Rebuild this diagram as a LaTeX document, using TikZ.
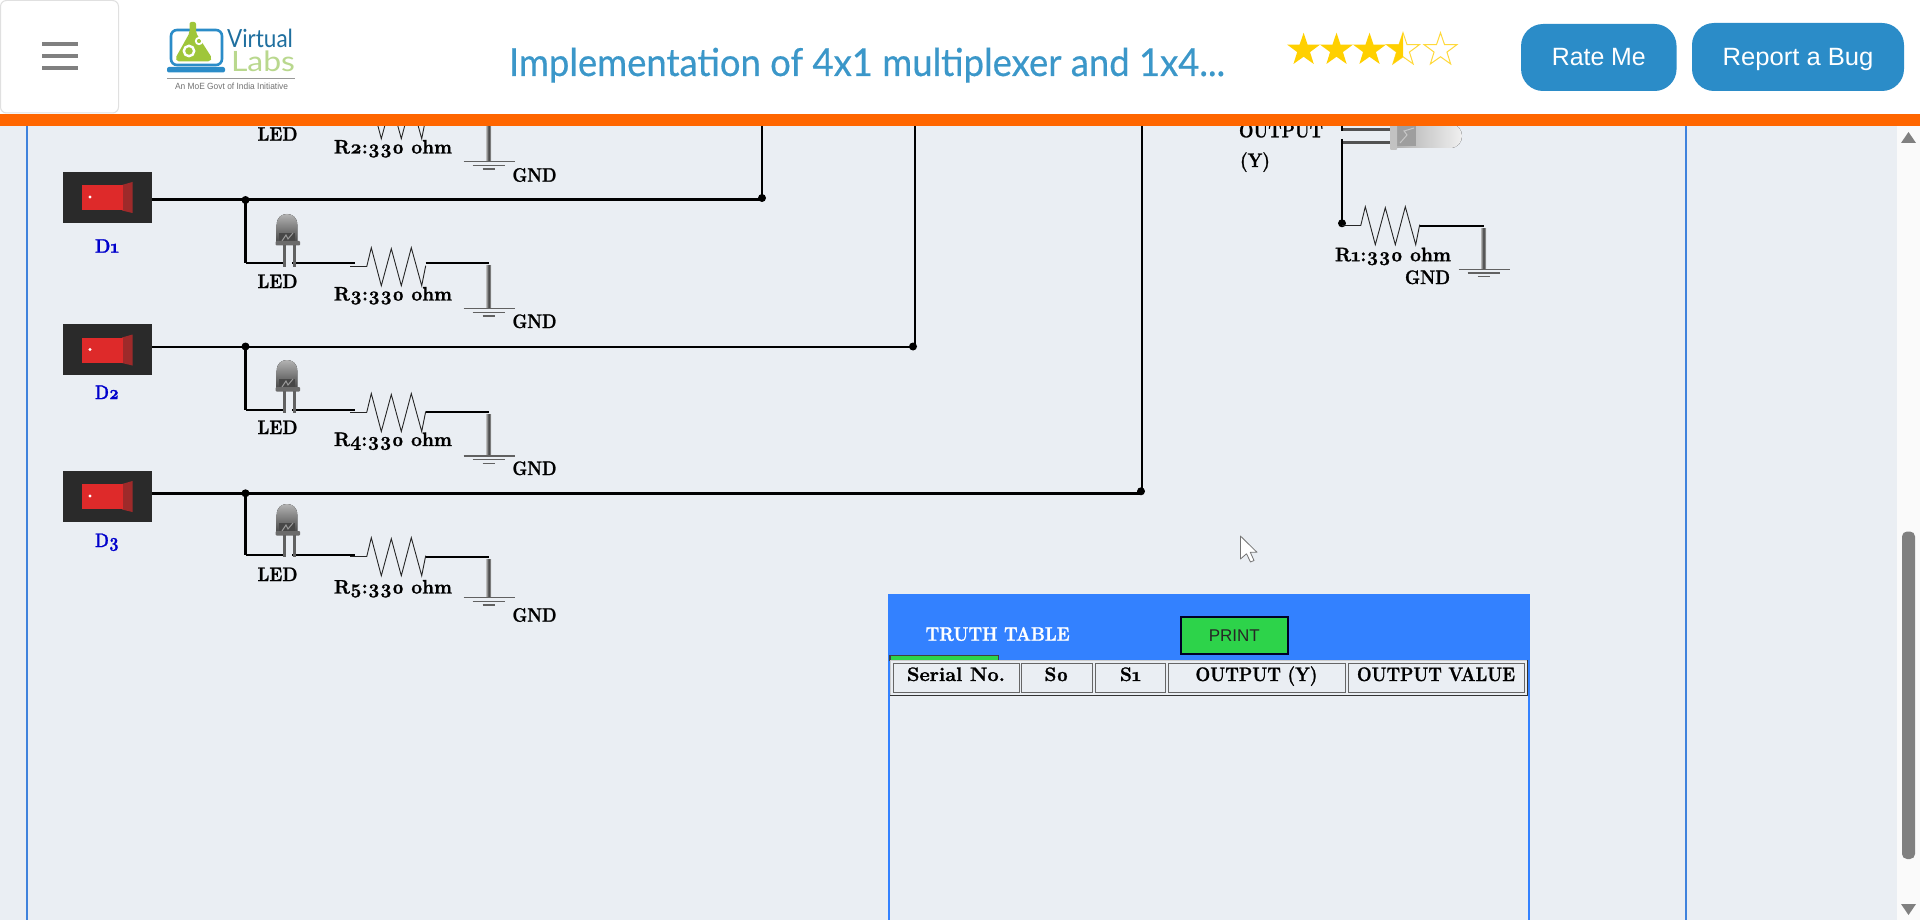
\documentclass[tikz,border=0pt]{standalone}
\usepackage{fontspec}
\usepackage{graphicx}
\usetikzlibrary{shapes.geometric}
\setmainfont{Liberation Sans}
\newfontfamily\gf[Numbers=OldStyle,BoldFeatures={FakeBold=1.3}]{Latin Modern Roman}
\newfontfamily\ttlf{Lato}
\newfontfamily\ttlb[FakeBold=0.5]{Lato}
\newfontfamily\sansf{Liberation Sans}
\definecolor{pagebg}{HTML}{EAEEF3}
\definecolor{orangebar}{HTML}{FF6600}
\definecolor{panelblue}{HTML}{3381FF}
\definecolor{edgeblue}{HTML}{3F82DC}
\definecolor{btnblue}{HTML}{2B8CC8}
\definecolor{ttlblue}{HTML}{3B97C9}
\definecolor{printgreen}{HTML}{2DD34A}
\definecolor{gold}{HTML}{FFD000}
\definecolor{goldl}{HTML}{FFD93B}
\definecolor{swdark}{HTML}{2A2A2A}
\definecolor{swred}{HTML}{DE2A2A}
\definecolor{swredd}{HTML}{9E2A2A}
\definecolor{dblue}{HTML}{0000CC}
\definecolor{flask}{HTML}{9FC63A}
\definecolor{labsg}{HTML}{B9D88E}
\definecolor{virt}{HTML}{1F6F9F}
\newcommand\fitw[2]{\resizebox{#1pt}{\height}{#2}}
\newcommand\gfb{\gf\bfseries\fontsize{19.5}{22}\selectfont}
\newcommand\zig[2]{\draw[zg] (366.7+#1,#2) -- (371.3+#1,#2-19) -- (381.3+#1,#2+19) -- (391.3+#1,#2-18) -- (401.3+#1,#2+19) -- (411.3+#1,#2-19) -- (421.7+#1,#2+19) -- (425.7+#1,#2-1);}
\newcommand\gnd[4]{%
  \fill[left color=gray!60,right color=gray!60,middle color=black!75] (#1-2.5,#2) rectangle (#1+2.5,#3);
  \draw[gl] (#1-25,#3) -- (#1+26,#3);
  \draw[gl] (#1-16,#3+3.6) -- (#1+16,#3+3.6);
  \draw[gl] (#1-6,#3+7.4) -- (#1+6,#3+7.4);}
\newcommand\ledv[2]{%
  \fill[top color=black!30,bottom color=black!72] (#1-10.3,#2+28) -- (#1-10.3,#2+11) .. controls (#1-10.3,#2+3) and (#1-5,#2) .. (#1,#2) .. controls (#1+5,#2) and (#1+10.3,#2+3) .. (#1+10.3,#2+11) -- (#1+10.3,#2+28) -- cycle;
  \fill[black!72] (#1-8,#2+19) -- (#1+8,#2+19) -- (#1+8,#2+27) -- (#1-8,#2+27) -- cycle;
  \draw[black!40,line width=1pt] (#1-5,#2+27) -- (#1-1,#2+21) -- (#1+1,#2+25) -- (#1+6,#2+19);
  \fill[black!58,rounded corners=1pt] (#1-11.5,#2+27) rectangle (#1+13,#2+31.5);
  \fill[black!62] (#1-4.2,#2+31) rectangle (#1-1.2,#2+53);
  \fill[black!62] (#1+5.5,#2+31) rectangle (#1+8.5,#2+53);}
\newcommand\swtch[2]{%
  \node[swbox] (sw#1) at (107.5,#2+25.3) {};
  \fill[swredd] (122,#2+13) -- (132.5,#2+10) -- (132.5,#2+41) -- (122,#2+38.5) -- cycle;
  \fill[swred] (82,#2+13) rectangle (122.5,#2+38);
  \fill[white] (90,#2+25) circle (1.7);}
\tikzset{
  x=1pt,y=-1pt,
  wire/.style={line width=2pt,black},
  wirem/.style={line width=3pt,black},
  zg/.style={line width=0.9pt,black!85,line join=miter},
  gl/.style={line width=1.3pt,black!62},
  dotn/.style={circle,fill=black,inner sep=0pt,minimum size=8pt},
  swbox/.style={rectangle,fill=swdark,inner sep=0pt,minimum width=89pt,minimum height=50.7pt},
  lbl/.style={inner sep=0pt,outer sep=0pt,anchor=base west,font=\gfb},
  lblc/.style={inner sep=0pt,outer sep=0pt,anchor=base,font=\gfb},
  btn/.style={rectangle,rounded corners=22pt,fill=btnblue,inner sep=0pt},
  btnt/.style={inner sep=0pt,outer sep=0pt,anchor=base,text=white,font=\sansf\fontsize{25}{28}\selectfont},
  starf/.style={star,star points=5,star point ratio=2.55,inner sep=0pt,minimum size=34.5pt},
  cellb/.style={draw=black!60,line width=1pt,fill=pagebg},
}
\begin{document}
\begin{tikzpicture}
\useasboundingbox (0,0) rectangle (1920,920);
\clip (0,0) rectangle (1920,920);
\fill[pagebg] (0,0) rectangle (1920,920);
% page edges
\fill[edgeblue] (26.2,114) rectangle (27.8,920);
\fill[edgeblue] (1685.2,114) rectangle (1686.8,920);
% scrollbar
\fill[white!98!black] (1897,114) rectangle (1920,920);
\fill[black!50,rounded corners=5pt] (1902,531.5) rectangle (1915,859);
\fill[black!50] (1901,143) -- (1908.5,132) -- (1916,143) -- cycle;
\fill[black!50] (1901,904) -- (1908.5,915) -- (1916,904) -- cycle;
% truth table panel
\fill[panelblue] (888,593.5) rectangle (1529.6,662);
\draw[line width=2pt,panelblue] (889,660) -- (889,920);
\draw[line width=2pt,panelblue] (1528.6,660) -- (1528.6,920);
\node[lbl,text=white] (ttitle) at (925.6,640.7) {\fitw{144}{TRUTH TABLE}};
\node[rectangle,draw=black!85!blue,line width=1.6pt,fill=printgreen,minimum width=107pt,minimum height=36.5pt,inner sep=0pt,font=\sansf\fontsize{17}{20}\selectfont,text=black!85] (printbtn) at (1234.3,635.5) {PRINT};
\fill[printgreen] (890,655.5) rectangle (998.4,661);
\draw[line width=1.2pt,black!75] (890,661) -- (890,655.7) -- (998.4,655.7) -- (998.4,661);
\fill[pagebg] (890,660.3) rectangle (1527.4,695.3);
\draw[line width=1pt,black!20] (890,695.3) -- (890,660.3) -- (1527.4,660.3);
\draw[line width=1.2pt,black!80] (890,695.3) -- (1527.4,695.3) -- (1527.4,660.3);
\draw[cellb] (893.5,663.3) rectangle (1019,692.7);
\draw[cellb] (1021,663.3) rectangle (1092.6,692.7);
\draw[cellb] (1095,663.3) rectangle (1165.8,692.7);
\draw[cellb] (1168,663.3) rectangle (1345.7,692.7);
\draw[cellb] (1348,663.3) rectangle (1524.7,692.7);
\node[lbl] (cserial) at (907,681) {\fitw{98}{Serial No.}};
\node[lbl] (cszero) at (1044.5,681) {\fitw{24}{S0}};
\node[lbl] (csone) at (1120,681) {\fitw{21}{S1}};
\node[lbl] (coutp) at (1195.5,681) {\fitw{122}{OUTPUT (Y)}};
\node[lbl] (coutv) at (1357,681) {\fitw{158}{OUTPUT VALUE}};
% cursor
\draw[fill=white,draw=black!55,line width=0.8pt,line join=round] (1240.4,536) -- (1240.4,559) -- (1246.5,553.8) -- (1250.5,562) -- (1254,560.5) -- (1250.3,552.3) -- (1257,552.3) -- cycle;
% input modules
\foreach \vn/\vr/\vm/\vw/\vl/\vg/\vh/\vt/\vp/\vq/\vu/\vs/\vd/\vx/\vk/\ve in {
  1/3/200/263.5/266.7/263.5/308.7/214/288/300.5/328/172/252.7/762/3/198,
  2/4/346.5/410/412.5/411.5/456/360/434/446/475/324.5/399/913/2/346.5,
  3/5/493.3/555/556.7/557.3/597.7/504/581/593.5/621.7/471/547/1141/3/491.3}{
  \swtch{\vn}{\vs}
  \node[lblc,text=dblue] (dl\vn) at (107,\vd) {\fitw{24}{D\vn}};
  \coordinate (j\vn) at (245.5,\vm);
  \coordinate (e\vn) at (\vx,\vm);
  \coordinate (c\vn) at (245.5,\vw);
  \coordinate (a\vn) at (286,\vw);
  \coordinate (b\vn) at (292,\vw);
  \coordinate (r\vn) at (355,\vw);
  \coordinate (s\vn) at (425.5,\vg);
  \coordinate (t\vn) at (488.7,\vg);
  \draw[line width=\vk pt,black] (sw\vn.east |- j\vn) -- (e\vn);
  \node[dotn] (jd\vn) at (j\vn) {};
  \node[dotn] (ed\vn) at (\vx,\ve) {};
  \draw[wirem] (j\vn) -- (c\vn |- a\vn);
  \draw[wire] (c\vn) -- (a\vn);
  \draw[wire] (b\vn) -- (r\vn);
  \ledv{287}{\vt}
  \draw[zg] (350,\vl) -- (366.7,\vl);
  \zig{0}{\vl}
  \draw[wire] (s\vn) -- (t\vn);
  \gnd{488.7}{\vg+2.5}{\vh}{}
  \node[lbl] (ledl\vn) at (257.5,\vp) {\fitw{40}{LED}};
  \node[lbl] (rl\vn) at (334,\vq) {\fitw{118}{R\vr:330 ohm}};
  \node[lbl] (gl\vn) at (512.5,\vu) {\fitw{44}{GND}};
}
% vertical data lines
\coordinate (v1) at (762,114);
\coordinate (v2) at (915,114);
\coordinate (v3) at (1142,114);
\draw[wire] (v1) -- (762,198);
\draw[wire] (v2) -- (915,346.5);
\draw[wire] (v3) -- (1142,491.5);
% partial R2 row
\zig{0}{119.7}
\gnd{488.7}{120}{161.7}{}
\node[lbl] (ledtop) at (257.5,140.7) {\fitw{40}{LED}};
\node[lbl] (rtop) at (334,153.5) {\fitw{118}{R2:330 ohm}};
\node[lbl] (gtop) at (512.5,181.7) {\fitw{44}{GND}};
% output side
\node[lbl] (outa) at (1239,137.3) {\fitw{84}{OUTPUT}};
\node[lbl] (outb) at (1240,167) {\fitw{30}{(Y)}};
\coordinate (oa) at (1342,131);
\coordinate (ob) at (1342,139);
\coordinate (oj) at (1342,223.3);
\draw[wire] (1342,114) -- (oa);
\draw[wire] (ob) -- (oj);
\node[dotn] (ojd) at (oj) {};
\fill[black!68] (1343,127.8) rectangle (1390,130.8);
\fill[black!68] (1343,140.8) rectangle (1390,143.8);
\fill[left color=black!30,right color=black!6] (1397,124) -- (1450,124) .. controls (1458,124) and (1462,130) .. (1462,136) .. controls (1462,142) and (1458,148) .. (1450,148) -- (1397,148) -- cycle;
\fill[black!38] (1397,126) -- (1416,126) -- (1416,146) -- (1397,146) -- cycle;
\draw[black!22,line width=1pt] (1400,143) -- (1407,135) -- (1404,131) -- (1414,128);
\fill[black!24,rounded corners=1pt] (1390,118) rectangle (1397,150);
\draw[zg] (oj) ++(0,2.4) -- (1360.7,225.7);
\zig{994}{225.7}
\draw[wire] (1420,226) -- (1484,226);
\gnd{1483.5}{228.3}{269.3}{}
\node[lbl] (r1l) at (1335,261.2) {\fitw{116}{R1:330 ohm}};
\node[lbl] (g1l) at (1405,284) {\fitw{45}{GND}};
% header
\fill[white] (0,0) rectangle (1920,114);
\fill[orangebar] (0,114) rectangle (1920,126);
\draw[black!12,line width=1pt,rounded corners=6pt,fill=white] (0.5,0.5) rectangle (118.5,113);
\foreach \yy in {44,56,68}{\fill[black!50] (41.6,\yy-1.7) rectangle (77.5,\yy+1.7);}
% logo
\draw[btnblue,line width=2.6pt,rounded corners=6pt] (171,30) rectangle (222,65);
\fill[btnblue,rounded corners=2pt] (167,67) rectangle (225,72.5);
\fill[flask,rounded corners=2pt] (189.5,22) -- (196,22) -- (196,33) -- (212,58) -- (210,61.5) -- (177,61.5) -- (175.5,58) -- (189.5,33) -- cycle;
\draw[white,line width=2.4pt] (189,51) circle (5.2);
\draw[white,line width=1.8pt] (199,41) circle (3.2);
\node[lbl,text=virt,font=\ttlf\fontsize{25}{28}\selectfont] (virt) at (227,48) {\fitw{66}{Virtual}};
\node[lbl,text=labsg,font=\ttlf\fontsize{28}{30}\selectfont] (labs) at (231,72) {\fitw{64}{Labs}};
\draw[black!40,line width=1pt] (167,79) -- (295,79);
\node[lbl,text=black!55,font=\sansf\fontsize{9}{11}\selectfont] (moe) at (175,90) {\fitw{113}{An MoE Govt of India Initiative}};
% title
\node[lbl,text=ttlblue,font=\ttlb\fontsize{38.5}{42}\selectfont] (title) at (509,76) {\fitw{716}{Implementation of 4x1 multiplexer and 1x4...}};
% stars
\foreach \sx/\si in {1303.6/1,1336.5/2,1369.5/3}{\node[starf,fill=gold] (st\si) at (\sx,50) {};}
\node[starf,draw=goldl,line width=1pt] (st4) at (1403,50) {};
\begin{scope}
\clip (1380,25) rectangle (1403,75);
\node[starf,fill=gold] (st4f) at (1403,50) {};
\end{scope}
\node[starf,draw=goldl,line width=1pt] (st5) at (1440.5,50) {};
% buttons
\node[btn,minimum width=155.5pt,minimum height=67pt] (rate) at (1598.8,57.5) {};
\node[btnt] (ratet) at (rate.center |- 0,66) {\fitw{94}{Rate Me}};
\node[btn,minimum width=212pt,minimum height=68pt] (bug) at (1798,57) {};
\node[btnt] (bugt) at (bug.center |- 0,65.5) {\fitw{151}{Report a Bug}};
\end{tikzpicture}
\end{document}
